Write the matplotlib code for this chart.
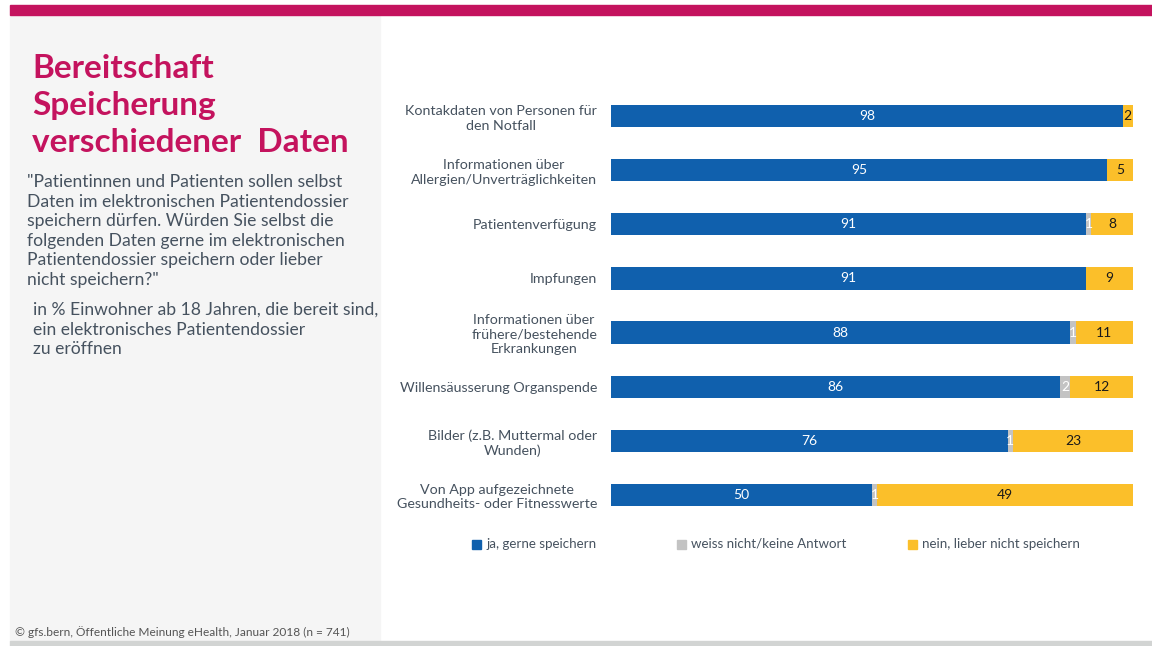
import matplotlib.pyplot as plt
from matplotlib.patches import Rectangle
import numpy as np

# data (in %)
categories = [
    "Kontakdaten von Personen für\nden Notfall",
    "Informationen über\nAllergien/Unverträglichkeiten",
    "Patientenverfügung",
    "Impfungen",
    "Informationen über\nfrühere/bestehende\nErkrankungen",
    "Willensäusserung Organspende",
    "Bilder (z.B. Muttermal oder\nWunden)",
    "Von App aufgezeichnete\nGesundheits- oder Fitnesswerte",
]
ja = [98, 95, 91, 91, 88, 86, 76, 50]
weiss_nicht = [0, 0, 1, 0, 1, 2, 1, 1]
nein = [2, 5, 8, 9, 11, 12, 23, 49]
series_names = ["ja, gerne speichern", "weiss nicht/keine Antwort", "nein, lieber nicht speichern"]

BLUE = "#1060ad"
GREY = "#c3c3c3"
YELLOW = "#fbbf2a"
MAGENTA = "#c4135e"
TEXT = "#46525f"
FONT = "Lato"

W, H = 1152, 646
fig = plt.figure(figsize=(W / 100, H / 100), dpi=100)
fig.patch.set_facecolor("white")

def px(x, y):
    # pixel coords (top-left origin) -> figure fraction
    return x / W, 1 - y / H

# background decoration
fig.add_artist(Rectangle(px(10, 641), 370 / W, 626 / H, transform=fig.transFigure,
                         color="#f5f5f5", zorder=0))
fig.add_artist(Rectangle(px(10, 15), (W - 10) / W, 10 / H, transform=fig.transFigure,
                         color=MAGENTA, zorder=1))
fig.add_artist(Rectangle(px(10, 646), (W - 10) / W, 5 / H, transform=fig.transFigure,
                         color="#d2d4d3", zorder=1))

# left panel text
title = "Bereitschaft\nSpeicherung\nverschiedener  Daten"
fig.text(*px(32, 54), title, color=MAGENTA, fontsize=24, fontweight="bold",
         family=FONT, va="top", ha="left", linespacing=1.33)
question = ('"Patientinnen und Patienten sollen selbst\nDaten im elektronischen Patientendossier\n'
            'speichern dürfen. Würden Sie selbst die\nfolgenden Daten gerne im elektronischen\n'
            'Patientendossier speichern oder lieber\nnicht speichern?"')
fig.text(*px(27, 174), question, color=TEXT, fontsize=12.6, family=FONT,
         va="top", ha="left", linespacing=1.27)
sub = "in % Einwohner ab 18 Jahren, die bereit sind,\nein elektronisches Patientendossier\nzu eröffnen"
fig.text(*px(33, 302), sub, color=TEXT, fontsize=12.6, family=FONT,
         va="top", ha="left", linespacing=1.27)
fig.text(*px(15, 632), "© gfs.bern, Öffentliche Meinung eHealth, Januar 2018 (n = 741)",
         color="#555555", fontsize=8.6, family=FONT, va="center", ha="left")

# chart
ax = fig.add_axes([611 / W, 1 - 522 / H, 522 / W, 433 / H])
y = np.arange(len(categories))
ja_a = np.array(ja)
wn_a = np.array(weiss_nicht)
ne_a = np.array(nein)
h = 0.41
b1 = ax.barh(y, ja_a, height=h, color=BLUE, label=series_names[0])
b2 = ax.barh(y, wn_a, left=ja_a, height=h, color=GREY, label=series_names[1])
b3 = ax.barh(y, ne_a, left=ja_a + wn_a, height=h, color=YELLOW, label=series_names[2])

for bars, vals, col in [(b1, ja_a, "white"), (b2, wn_a, "white"), (b3, ne_a, "#1a1a1a")]:
    for rect, v in zip(bars, vals):
        if v == 0:
            continue
        ax.text(rect.get_x() + rect.get_width() / 2, rect.get_y() + rect.get_height() / 2,
                str(v), ha="center", va="center", color=col, fontsize=10, family=FONT)

ax.set_xlim(0, 100)
ax.set_ylim(len(categories) - 0.5, -0.5)
ax.set_yticks(y)
ax.set_yticklabels(categories, fontsize=10.3, color=TEXT, family=FONT,
                   multialignment="center", linespacing=1.25)
ax.tick_params(axis="y", length=0, pad=10)
ax.set_xticks([])
for s in ax.spines.values():
    s.set_visible(False)
ax.patch.set_alpha(0)

# legend
leg_x = [476, 681, 912]
for xx, name, col in zip(leg_x, series_names, [BLUE, GREY, YELLOW]):
    fig.add_artist(Rectangle(px(xx - 4, 549), 9 / W, 9 / H, transform=fig.transFigure,
                             color=col))
    fig.text(*px(xx + 10, 544), name, color=TEXT, fontsize=9.6, family=FONT,
             va="center", ha="left")

fig.savefig("out.png", dpi=100)
